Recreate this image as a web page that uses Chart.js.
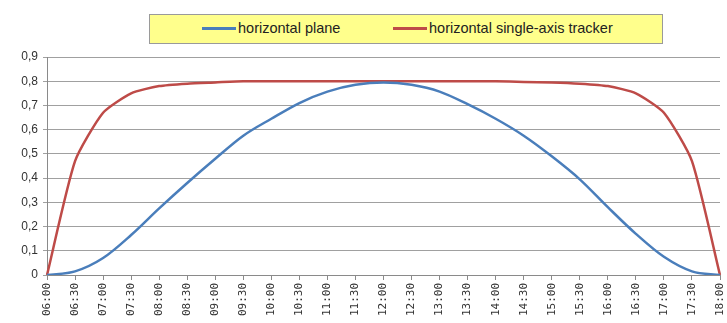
<!DOCTYPE html>
<html>
<head>
<meta charset="utf-8">
<script src="https://cdn.jsdelivr.net/npm/chart.js@4"></script>
<style>
  body { margin:0; background:#fff; }
  #wrap { position:relative; width:727px; height:323px; }
  #legend {
    position:absolute; left:149px; top:14px; width:514px; height:30px;
    background:#ffff8c; border:1px solid #9a9a9a; box-sizing:border-box;
    font:14.5px "Liberation Sans", Arial, sans-serif; color:#222;
  }
  #legend .it { position:absolute; top:5px; white-space:nowrap; }
  #legend .ln { display:inline-block; width:34px; height:3px; vertical-align:middle; margin-right:2px; position:relative; top:-1px; }
</style>
</head>
<body>
<div id="wrap">
  <canvas id="chart" width="727" height="323"></canvas>
  <div id="legend"></div>
</div>
<script>
const $ = sel => document.querySelector(sel);

// time of day, every half hour
const times = ['06:00','06:30','07:00','07:30','08:00','08:30','09:00','09:30','10:00','10:30','11:00','11:30',
  '12:00','12:30','13:00','13:30','14:00','14:30','15:00','15:30','16:00','16:30','17:00','17:30','18:00'];
const planeName = 'horizontal plane';
const plane = [0, 0.015, 0.07, 0.165, 0.275, 0.38, 0.48, 0.575, 0.645, 0.71, 0.757, 0.785,
  0.795, 0.785, 0.757, 0.705, 0.645, 0.575, 0.49, 0.395, 0.28, 0.17, 0.075, 0.015, 0];
const trackerName = 'horizontal single-axis tracker';
const tracker = [0, 0.47, 0.67, 0.75, 0.78, 0.79, 0.795, 0.8, 0.8, 0.8, 0.8, 0.8,
  0.8, 0.8, 0.8, 0.8, 0.8, 0.797, 0.795, 0.79, 0.78, 0.75, 0.67, 0.47, 0];
const yTicks = [0, 0.1, 0.2, 0.3, 0.4, 0.5, 0.6, 0.7, 0.8, 0.9];

const BLUE = '#4a7ebb', RED = '#be4b48';

function legend(){
  const el = $('#legend');
  el.innerHTML =
    `<span class="it" style="left:52px"><span class="ln" style="background:${BLUE}"></span>${planeName}</span>` +
    `<span class="it" style="left:243px"><span class="ln" style="background:${RED}"></span>${trackerName}</span>`;
}

const fmtY = v => v === 0 ? '0' : v.toFixed(1).replace('.', ',');

new Chart($('#chart'), {
  type: 'line',
  data: {
    labels: times,
    datasets: [
      { label: planeName, data: plane, borderColor: BLUE, borderWidth: 2.5, pointRadius: 0, tension: 0.35, cubicInterpolationMode: 'monotone' },
      { label: trackerName, data: tracker, borderColor: RED, borderWidth: 2.5, pointRadius: 0, tension: 0.2 }
    ]
  },
  options: {
    responsive: false,
    animation: false,
    layout: { padding: { top: 57, right: 7, left: 0, bottom: 0 } },
    plugins: { legend: { display: false }, tooltip: { enabled: false } },
    scales: {
      x: {
        offset: false,
        grid: { drawOnChartArea: false, drawTicks: true, tickLength: 5, color: '#8a8a8a' },
        border: { color: '#8a8a8a' },
        ticks: { minRotation: 90, maxRotation: 90, autoSkip: false, padding: 3, color: '#333',
          font: { family: 'DejaVu Sans Mono', size: 11 } },
        afterFit: s => { s.height = 48; s.paddingLeft = 0; s.paddingRight = 0; }
      },
      y: {
        min: 0, max: 0.9,
        afterBuildTicks: s => { s.ticks = yTicks.map(v => ({ value: v })); },
        grid: { color: '#a0a0a0', lineWidth: 1, drawTicks: true, tickLength: 4 },
        border: { color: '#8a8a8a' },
        ticks: { callback: v => fmtY(v), color: '#333', padding: 5,
          font: { family: '"Liberation Sans", Arial, sans-serif', size: 12 } },
        afterFit: s => { s.width = 47; }
      }
    }
  }
});

legend();
</script>
</body>
</html>
